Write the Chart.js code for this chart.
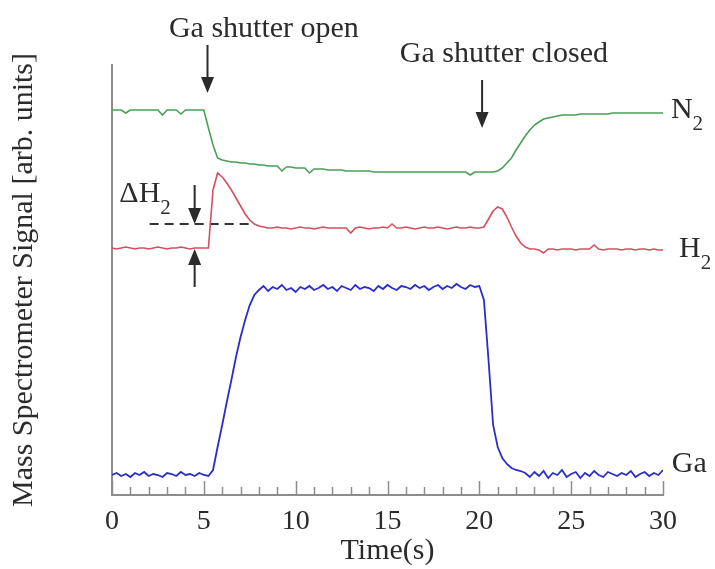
<!DOCTYPE html>
<html>
<head>
<meta charset="utf-8">
<script src="https://cdn.jsdelivr.net/npm/chart.js@4.4.1/dist/chart.umd.min.js"></script>
<style>
  html, body { margin: 0; padding: 0; background: #fff; }
</style>
</head>
<body>
<canvas id="chart" width="715" height="569"></canvas>
<script>
// time samples (s), one row = 2.5 s
const time = [
  0, 0.25, 0.5, 0.75, 1, 1.25, 1.5, 1.75, 2, 2.25,
  2.5, 2.75, 3, 3.25, 3.5, 3.75, 4, 4.25, 4.5, 4.75,
  5, 5.25, 5.5, 5.75, 6, 6.25, 6.5, 6.75, 7, 7.25,
  7.5, 7.75, 8, 8.25, 8.5, 8.75, 9, 9.25, 9.5, 9.75,
  10, 10.25, 10.5, 10.75, 11, 11.25, 11.5, 11.75, 12, 12.25,
  12.5, 12.75, 13, 13.25, 13.5, 13.75, 14, 14.25, 14.5, 14.75,
  15, 15.25, 15.5, 15.75, 16, 16.25, 16.5, 16.75, 17, 17.25,
  17.5, 17.75, 18, 18.25, 18.5, 18.75, 19, 19.25, 19.5, 19.75,
  20, 20.25, 20.5, 20.75, 21, 21.25, 21.5, 21.75, 22, 22.25,
  22.5, 22.75, 23, 23.25, 23.5, 23.75, 24, 24.25, 24.5, 24.75,
  25, 25.25, 25.5, 25.75, 26, 26.25, 26.5, 26.75, 27, 27.25,
  27.5, 27.75, 28, 28.25, 28.5, 28.75, 29, 29.25, 29.5, 29.75,
  30
];

// signals in arbitrary units (traces are offset on one axis)
const n2Signal = [
  385, 385, 385, 382, 385, 385, 385, 385, 385, 385,
  385, 380, 385, 385, 385, 381, 385, 385, 385, 385,
  385, 367, 350, 337, 335, 334, 333, 333, 332, 332,
  331, 331, 330, 330, 329, 329, 329, 324, 328, 328,
  327, 327, 327, 322, 326, 326, 326, 325, 325, 325,
  325, 324, 324, 324, 324, 324, 324, 323, 323, 323,
  323, 323, 323, 323, 323, 323, 323, 323, 323, 323,
  323, 323, 323, 323, 323, 323, 323, 323, 320, 323,
  323, 323, 323, 323, 324, 327, 332, 337, 345, 352,
  359, 365, 370, 373, 376, 377, 378, 379, 380, 380,
  380, 380, 381, 381, 381, 381, 381, 381, 381, 382,
  382, 382, 382, 382, 382, 382, 382, 382, 382, 382,
  382
];

const h2Signal = [
  247, 246, 247, 248, 247, 246, 247, 247, 246, 247,
  248, 247, 246, 247, 247, 248, 247, 246, 247, 247,
  247, 247, 305, 322, 318, 312, 305, 297, 289, 281,
  275, 271, 269, 268, 267, 267, 268, 267, 267, 266,
  267, 268, 267, 267, 266, 267, 268, 267, 267, 267,
  267, 267, 262, 267, 268, 267, 266, 267, 267, 268,
  267, 271, 267, 267, 268, 267, 266, 267, 268, 267,
  267, 268, 267, 266, 267, 268, 267, 267, 268, 267,
  267, 268, 276, 284, 288, 286, 278, 268, 259, 252,
  248, 246, 246, 245, 242, 246, 246, 245, 246, 246,
  246, 245, 246, 246, 246, 250, 246, 245, 246, 246,
  246, 245, 246, 246, 245, 246, 246, 245, 246, 245,
  245
];

const gaSignal = [
  20, 22, 19, 21, 18, 22, 20, 23, 19, 21,
  20, 18, 22, 21, 19, 23, 20, 21, 19, 22,
  20, 19, 25, 48, 70, 93, 115, 138, 158, 175,
  190, 200, 205, 209, 204, 208, 206, 210, 205, 207,
  203, 208, 206, 209, 205, 207, 210, 206, 208, 204,
  209, 207, 205, 210, 206, 208, 207, 204, 209, 206,
  210, 207, 205, 209, 208, 206, 210, 207, 209, 205,
  208, 210, 206, 209, 207, 211, 208, 206, 210, 208,
  209, 195, 135, 70, 48, 37, 31, 27, 25, 24,
  22, 18, 23, 19, 24, 17, 22, 20, 25, 18,
  21, 23, 17, 22, 19, 24, 20, 18, 23, 21,
  19, 22, 20, 24, 18, 21, 23, 19, 22, 20,
  25
];

// dashed reference level for delta H2
const dashTime = [2.05, 7.6];
const dashLevel = [271, 271];

const xTicks = [0, 5, 10, 15, 20, 25, 30];

const SERIF = '"Liberation Serif", "Times New Roman", serif';
const INK = '#2b2b2b';
const AXIS = '#8c8c8c';

const toPoints = (xs, ys) => xs.map((t, i) => ({ x: t, y: ys[i] }));

// text and arrows, placed in data units
const notes = [
  { text: 'Ga shutter open', x: 8.27, y: 458, align: 'center' },
  { text: 'Ga shutter closed', x: 21.34, y: 433, align: 'center' }
];
const traceLabels = [
  { main: 'N', sub: '2', x: 30.43, y: 377 },
  { main: 'H', sub: '2', x: 30.87, y: 238 },
  { main: 'Ga', sub: '', x: 30.48, y: 23 },
  { main: '\u0394H', sub: '2', x: 0.4, y: 293 }
];
const arrows = [
  { x: 5.2, from: 450, to: 402 },
  { x: 20.15, from: 415, to: 367 },
  { x: 4.5, from: 310, to: 271 },
  { x: 4.5, from: 208, to: 246 }
];

function drawArrow(ctx, px, y0, y1) {
  const dir = Math.sign(y1 - y0);
  ctx.beginPath();
  ctx.moveTo(px, y0);
  ctx.lineTo(px, y1 - dir * 12);
  ctx.stroke();
  ctx.beginPath();
  ctx.moveTo(px, y1);
  ctx.lineTo(px - 6.5, y1 - dir * 16);
  ctx.lineTo(px + 6.5, y1 - dir * 16);
  ctx.closePath();
  ctx.fill();
}

const overlay = {
  id: 'overlay',
  afterDraw(chart) {
    const { ctx, scales: { x, y }, chartArea } = chart;
    ctx.save();

    // inward ticks: minor every second, major every 5 s
    ctx.strokeStyle = AXIS;
    ctx.lineWidth = 1.5;
    for (let v = 0; v <= 30; v++) {
      const px = Math.round(x.getPixelForValue(v)) + 0.5;
      const len = v % 5 === 0 ? 14 : 8;
      ctx.beginPath();
      ctx.moveTo(px, chartArea.bottom);
      ctx.lineTo(px, chartArea.bottom - len);
      ctx.stroke();
    }

    ctx.fillStyle = INK;
    ctx.strokeStyle = INK;
    ctx.lineWidth = 2;
    arrows.forEach(a => {
      drawArrow(ctx, x.getPixelForValue(a.x), y.getPixelForValue(a.from), y.getPixelForValue(a.to));
    });

    ctx.textBaseline = 'alphabetic';
    ctx.font = '30px ' + SERIF;
    notes.forEach(n => {
      ctx.textAlign = n.align;
      ctx.fillText(n.text, x.getPixelForValue(n.x), y.getPixelForValue(n.y));
    });

    ctx.textAlign = 'left';
    traceLabels.forEach(l => {
      const px = x.getPixelForValue(l.x);
      const py = y.getPixelForValue(l.y);
      ctx.font = '30px ' + SERIF;
      ctx.fillText(l.main, px, py);
      if (l.sub) {
        const w = ctx.measureText(l.main).width;
        ctx.font = '21px ' + SERIF;
        ctx.fillText(l.sub, px + w, py + 12);
      }
    });
    ctx.restore();
  }
};

new Chart(document.getElementById('chart'), {
  type: 'line',
  data: {
    datasets: [
      {
        label: 'N2',
        data: toPoints(time, n2Signal),
        borderColor: '#4a9e55',
        borderWidth: 1.6
      },
      {
        label: 'H2',
        data: toPoints(time, h2Signal),
        borderColor: '#d4505e',
        borderWidth: 1.6
      },
      {
        label: 'Ga',
        data: toPoints(time, gaSignal),
        borderColor: '#2c2cc8',
        borderWidth: 1.8
      },
      {
        label: 'dH2',
        data: toPoints(dashTime, dashLevel),
        borderColor: '#333333',
        borderWidth: 2,
        borderDash: [9, 6]
      }
    ]
  },
  options: {
    responsive: false,
    animation: false,
    devicePixelRatio: 1,
    elements: { point: { radius: 0 }, line: { tension: 0 } },
    layout: { padding: { top: 65, right: 52, left: 0, bottom: 0 } },
    plugins: { legend: { display: false }, tooltip: { enabled: false } },
    scales: {
      x: {
        type: 'linear',
        min: 0,
        max: 30,
        afterBuildTicks: (scale) => { scale.ticks = xTicks.map(v => ({ value: v })); },
        afterFit: (scale) => { scale.height = 74; },
        grid: { display: false, drawTicks: false },
        border: { display: true, color: AXIS, width: 2 },
        ticks: { color: INK, font: { family: SERIF, size: 28 }, padding: 10, maxRotation: 0 },
        title: {
          display: true,
          text: 'Time(s)',
          color: INK,
          font: { family: SERIF, size: 30 },
          padding: { top: 0, bottom: 0 }
        }
      },
      y: {
        min: 0,
        max: 430,
        afterFit: (scale) => { scale.width = 112; },
        grid: { display: false, drawTicks: false },
        border: { display: true, color: AXIS, width: 2 },
        ticks: { display: false },
        title: {
          display: true,
          text: 'Mass Spectrometer Signal [arb. units]',
          color: INK,
          font: { family: SERIF, size: 30 },
          padding: { top: 6, bottom: 0 }
        }
      }
    }
  },
  plugins: [overlay]
});
</script>
</body>
</html>
